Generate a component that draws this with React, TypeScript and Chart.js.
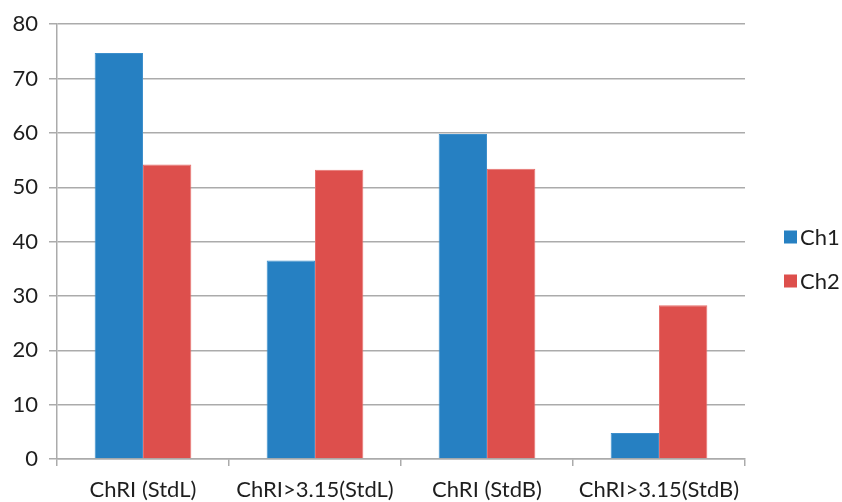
import React, { useEffect, useRef } from "react";
import { Chart, registerables } from "chart.js";

Chart.register(...registerables);

const categories = ["ChRI (StdL)", "ChRI>3.15(StdL)", "ChRI (StdB)", "ChRI>3.15(StdB)"];
const ch1Values = [74.7, 36.5, 59.8, 4.8];
const ch2Values = [54.2, 53.2, 53.4, 28.3];
const yTicks = [0, 10, 20, 30, 40, 50, 60, 70, 80];

const FONT = "Lato, 'Open Sans', sans-serif";
const GRID = "#ababab";
const TEXT = "#1e1e1e";

// Vertical legend on the right: small square swatch, label close beside it.
const sideLegend = {
  id: "sideLegend",
  afterDraw(chart: any) {
    const { ctx, chartArea } = chart;
    const boxX = chartArea.right + 39;
    const rowGap = 44;
    const sets = chart.data.datasets;
    const midY = 259;
    const startY = midY - ((sets.length - 1) * rowGap) / 2;
    ctx.save();
    ctx.font = `22px ${FONT}`;
    ctx.textBaseline = "middle";
    ctx.textAlign = "left";
    sets.forEach((ds: any, i: number) => {
      const y = startY + i * rowGap;
      ctx.fillStyle = ds.backgroundColor;
      ctx.fillRect(boxX, y - 6.5, 13, 13);
      ctx.fillStyle = TEXT;
      ctx.fillText(ds.label, boxX + 16, y + 1);
    });
    ctx.restore();
  },
};

export default function App() {
  const ref = useRef<HTMLCanvasElement | null>(null);

  useEffect(() => {
    if (!ref.current) return;
    const chart = new Chart(ref.current, {
      type: "bar",
      data: {
        labels: categories,
        datasets: [
          {
            label: "Ch1",
            data: ch1Values,
            backgroundColor: "#2680c2",
            borderColor: "#3d8fcc",
            borderWidth: 1,
          },
          {
            label: "Ch2",
            data: ch2Values,
            backgroundColor: "#dd4f4c",
            borderColor: "#e6706d",
            borderWidth: 1,
          },
        ],
      },
      options: {
        animation: false,
        responsive: false,
        layout: { padding: { top: 7, left: 0, right: 97, bottom: 0 } },
        datasets: { bar: { barPercentage: 1, categoryPercentage: 0.562 } },
        plugins: {
          tooltip: { enabled: false },
          legend: { display: false },
        },
        scales: {
          x: {
            afterFit: (scale: any) => {
              scale.height = 43;
            },
            grid: {
              offset: true,
              drawOnChartArea: false,
              drawTicks: true,
              tickLength: 7,
              color: GRID,
              lineWidth: 1.5,
            },
            border: { color: GRID, width: 1.5 },
            ticks: {
              color: TEXT,
              padding: 11,
              maxRotation: 0,
              font: { family: FONT, size: 22 },
            },
          },
          y: {
            min: 0,
            max: 80,
            afterFit: (scale: any) => {
              scale.width = 57;
            },
            afterBuildTicks: (axis: any) => {
              axis.ticks = yTicks.map((v) => ({ value: v }));
            },
            grid: { color: GRID, lineWidth: 1.5, tickLength: 8 },
            border: { color: GRID, width: 1.5 },
            ticks: {
              color: TEXT,
              padding: 11,
              font: { family: FONT, size: 22 },
            },
          },
        },
      },
      plugins: [sideLegend],
    });
    return () => chart.destroy();
  }, []);

  return (
    <div style={{ position: "fixed", left: 0, top: 0, width: 842, height: 502, background: "#fff" }}>
      <canvas ref={ref} width={842} height={502} />
    </div>
  );
}
